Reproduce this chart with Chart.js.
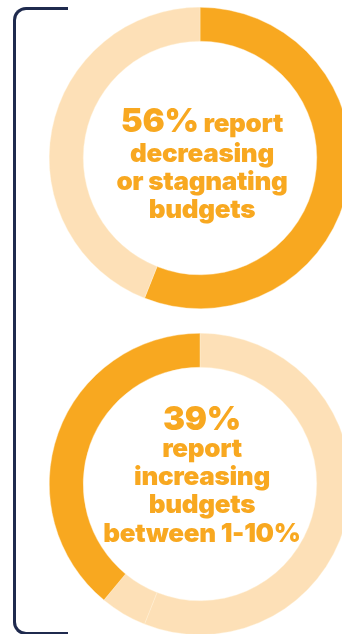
<!DOCTYPE html>
<html>
<head>
<meta charset="utf-8">
<script src="https://cdn.jsdelivr.net/npm/chart.js@4.4.1/dist/chart.umd.min.js"></script>
<style>
  html, body { margin: 0; padding: 0; background: #fff; }
  body { width: 342px; height: 634px; overflow: hidden; position: relative; }
  .bracket {
    position: absolute; left: 13px; top: 7px; width: 52px; height: 622px;
    border: 3px solid #1f2a4e; border-right: none; border-radius: 13px 0 0 13px;
  }
  .ring { position: absolute; left: 49px; width: 302px; height: 302px; }
  .ring canvas { display: block; }
  .label {
    position: absolute; left: 72px; width: 260px; text-align: center;
    color: #f8a820; font-family: Inter, "Noto Sans", sans-serif; font-weight: 900;
    font-size: 26px; line-height: 28px; letter-spacing: -0.3px;
  }
  .label .big { font-size: 33px; }
</style>
</head>
<body>
<div class="bracket"></div>
<div class="ring" style="top:7px"><canvas id="topChart" width="302" height="302"></canvas></div>
<div class="ring" style="top:333px"><canvas id="bottomChart" width="302" height="302"></canvas></div>

<div class="label" style="top:104px">
  <div style="line-height:33px"><span class="big">56%</span> report</div>
  <div>decreasing</div>
  <div>or stagnating</div>
  <div>budgets</div>
</div>
<div class="label" style="top:402px">
  <div class="big" style="line-height:32px">39%</div>
  <div>report</div>
  <div>increasing</div>
  <div>budgets</div>
  <div style="line-height:29px">between 1-10%</div>
</div>

<script>
// budget outlook shares, in percent
const topLabels = ["Decreasing or stagnating", "Increasing"];
const topValues = [56, 44];

// drawn clockwise from 12 o'clock, so the 1-10% share sits on the left side
const bottomLabels = ["Decreasing or stagnating", "Increasing over 10%", "Increasing 1-10%"];
const bottomValues = [56, 5, 39];

const ORANGE = "#f8a820";
const PEACH = "#fde0b7";

function ring(id, labels, values, colors) {
  return new Chart(document.getElementById(id), {
    type: "doughnut",
    data: {
      labels: labels,
      datasets: [{
        data: values,
        backgroundColor: colors,
        borderWidth: 0.6,
        borderColor: "rgba(255,240,215,0.7)",
      }],
    },
    options: {
      responsive: false,
      animation: false,
      events: [],
      cutout: "77.5%",
      plugins: { legend: { display: false }, tooltip: { enabled: false } },
    },
  });
}

ring("topChart", topLabels, topValues, [ORANGE, PEACH]);
ring("bottomChart", bottomLabels, bottomValues, [PEACH, PEACH, ORANGE]);
</script>
</body>
</html>
